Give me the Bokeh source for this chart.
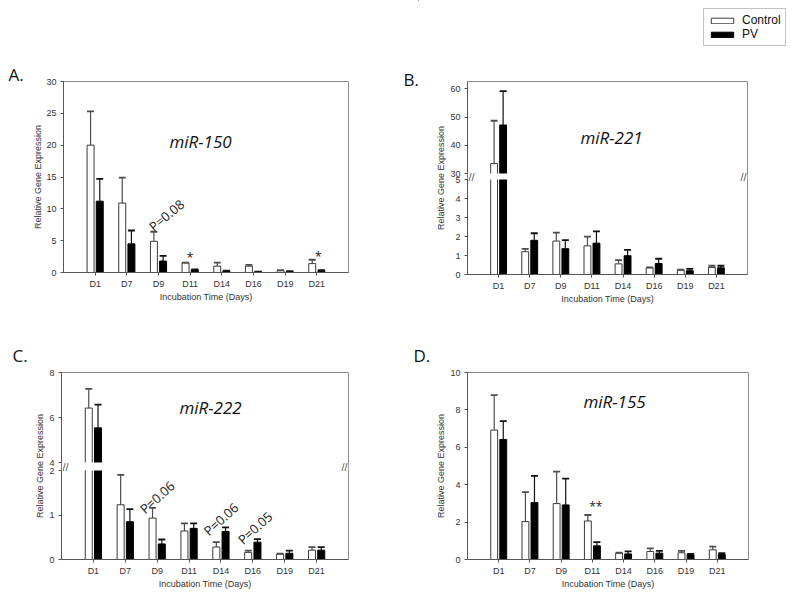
import math
from bokeh.plotting import figure
from bokeh.models import (ColumnDataSource, FactorRange, Range1d, FixedTicker,
                          Label, Legend, LegendItem, BoxAnnotation)
from bokeh.transform import dodge
from bokeh.layouts import row, column
from bokeh.core.properties import value
from bokeh.embed import file_html
from bokeh.resources import INLINE

# ---------------- data ----------------
days = ["D1", "D7", "D9", "D11", "D14", "D16", "D19", "D21"]

mir150_ctrl = [20.0, 10.9, 4.9, 1.5, 1.0, 1.0, 0.3, 1.4]
mir150_ctrl_se = [5.3, 4.0, 1.5, 0.06, 0.55, 0.2, 0.05, 0.6]
mir150_pv = [11.2, 4.5, 1.8, 0.45, 0.25, 0.12, 0.15, 0.3]
mir150_pv_se = [3.5, 2.1, 0.8, 0.05, 0.05, 0.03, 0.05, 0.05]

mir221_ctrl = [33.5, 1.2, 1.76, 1.51, 0.56, 0.35, 0.23, 0.37]
mir221_ctrl_se = [15.2, 0.15, 0.44, 0.48, 0.2, 0.03, 0.03, 0.09]
mir221_pv = [47.2, 1.8, 1.36, 1.65, 0.99, 0.58, 0.2, 0.35]
mir221_pv_se = [12.0, 0.37, 0.45, 0.62, 0.31, 0.25, 0.1, 0.11]

mir222_ctrl = [6.42, 1.23, 0.93, 0.64, 0.28, 0.16, 0.12, 0.21]
mir222_ctrl_se = [0.85, 0.67, 0.23, 0.17, 0.11, 0.04, 0.01, 0.07]
mir222_pv = [5.54, 0.85, 0.35, 0.70, 0.63, 0.39, 0.14, 0.21]
mir222_pv_se = [1.03, 0.28, 0.10, 0.11, 0.09, 0.07, 0.06, 0.07]

mir155_ctrl = [6.92, 2.03, 2.99, 2.06, 0.34, 0.43, 0.36, 0.52]
mir155_ctrl_se = [1.87, 1.57, 1.71, 0.32, 0.02, 0.17, 0.10, 0.17]
mir155_pv = [6.42, 3.04, 2.92, 0.73, 0.30, 0.34, 0.27, 0.27]
mir155_pv_se = [0.98, 1.43, 1.41, 0.20, 0.13, 0.12, 0.03, 0.07]

mir150_ticks = [0, 5, 10, 15, 20, 25, 30]
mir221_ticks_low = [0, 1, 2, 3, 4, 5]
mir221_ticks_high = [30, 40, 50, 60]
mir222_ticks_low = [0, 1, 2]
mir222_ticks_high = [4, 6, 8]
mir155_ticks = [0, 2, 4, 6, 8, 10]

mir150_notes = ["P=0.08", "*", "*"]
mir150_note_days = ["D9", "D11", "D21"]
mir222_notes = ["P=0.06", "P=0.06", "P=0.05"]
mir222_note_days = ["D9", "D14", "D16"]
mir155_notes = ["**"]
mir155_note_days = ["D11"]

series_names = ["Control", "PV"]

# ---------------- style / layout ----------------
FONT = "Liberation Sans"
TFONT = "Open Sans"
BAR_OFF = 0.145
BAR_W = 0.22
AXIS_COL = "#555555"
OUTLINE_COL = "#8c8c8c"
TEXT_COL = "#333333"
CTRL_STYLE = dict(fill_color="white", line_color="#3a3a3a")
PV_STYLE = dict(fill_color="black", line_color="black")


def style_axes(p, ylab_standoff):
    p.grid.visible = False
    p.outline_line_color = OUTLINE_COL
    p.outline_line_width = 1
    for ax in (p.xaxis[0], p.yaxis[0]):
        ax.axis_line_color = AXIS_COL
        ax.major_tick_line_color = AXIS_COL
        ax.major_tick_out = 3
        ax.major_tick_in = 0
        ax.minor_tick_line_color = None
        ax.major_label_text_font = FONT
        ax.major_label_text_font_size = "9px"
        ax.major_label_text_color = TEXT_COL
        ax.axis_label_text_font = FONT
        ax.axis_label_text_font_size = "9px"
        ax.axis_label_text_font_style = "normal"
        ax.axis_label_text_color = TEXT_COL
    p.xaxis.axis_label = "Incubation Time (Days)"
    p.xaxis.major_label_standoff = 3
    p.xaxis.axis_label_standoff = 0
    p.yaxis.axis_label = "Relative Gene Expression"
    p.yaxis.major_label_standoff = 4
    p.yaxis.axis_label_standoff = ylab_standoff


def make_strip(width, height):
    s = figure(width=width, height=height, x_range=Range1d(0, width),
               y_range=Range1d(height, 0), x_axis_location=None, y_axis_location=None,
               min_border_left=0, min_border_right=0, min_border_top=0, min_border_bottom=0,
               output_backend="svg", toolbar_location=None,
               background_fill_color="white", border_fill_color="white")
    s.outline_line_color = None
    s.grid.visible = False
    return s


def make_panel(ctrl, ctrl_se, pv, pv_se, g, ticks=None, brk=None):
    xr = FactorRange(factors=days, range_padding=0.5, range_padding_units="absolute")
    if brk is None:
        yr = Range1d(0, ticks[-1])
    else:
        H, L, G = g["fh"], brk["L"], brk["G"]
        lo1, up0, up1 = brk["lo1"], brk["up0"], brk["up1"]
        yr = Range1d(0, lo1 * H / L)
        s = (up1 - up0) / (H - L - G)
    p = figure(x_range=xr, y_range=yr, frame_width=g["fw"], frame_height=g["fh"],
               min_border_left=g["ml"], min_border_right=g["mr"],
               min_border_top=g["mt"], min_border_bottom=g["mb"],
               output_backend="svg", toolbar_location=None,
               background_fill_color="white", border_fill_color="white")
    if brk is not None:
        p.extra_y_ranges = {"upper": Range1d(up0 - (L + G) * s, up1)}
    style_axes(p, g["ylab"])

    specs = [(ctrl, ctrl_se, -BAR_OFF, CTRL_STYLE, "#4d4d4d"),
             (pv, pv_se, BAR_OFF, PV_STYLE, "#111111")]
    for vals, se, off, sty, ecol in specs:
        xs = dodge("day", off, range=xr)
        ups = [v + e for v, e in zip(vals, se)]
        if brk is None:
            src = ColumnDataSource(dict(day=days, top=vals, up=ups))
            p.vbar(x=xs, top="top", width=BAR_W, source=src, line_width=1, **sty)
            p.segment(x0=xs, y0="top", x1=xs, y1="up", source=src, line_color=ecol, line_width=1.2)
            p.scatter(x=xs, y="up", marker="dash", size=7, line_width=1.8,
                      line_color=ecol, source=src)
        else:
            cut_lo = lo1 + 0.5 * G / L * lo1
            cut_hi = up0 - 0.5 * G * s
            low = ColumnDataSource(dict(day=days, top=[min(v, cut_lo) for v in vals]))
            p.vbar(x=xs, top="top", width=BAR_W, source=low, line_width=1, **sty)
            small = [i for i, v in enumerate(vals) if v <= lo1]
            big = [i for i, v in enumerate(vals) if v > lo1]
            es = ColumnDataSource(dict(day=[days[i] for i in small],
                                       top=[vals[i] for i in small],
                                       up=[ups[i] for i in small]))
            p.segment(x0=xs, y0="top", x1=xs, y1="up", source=es, line_color=ecol, line_width=1.2)
            p.scatter(x=xs, y="up", marker="dash", size=7, line_width=1.8,
                      line_color=ecol, source=es)
            hs = ColumnDataSource(dict(day=[days[i] for i in big],
                                       bottom=[cut_hi] * len(big),
                                       top=[vals[i] for i in big],
                                       up=[ups[i] for i in big]))
            p.vbar(x=xs, bottom="bottom", top="top", width=BAR_W, source=hs,
                   line_width=1, y_range_name="upper", **sty)
            p.segment(x0=xs, y0="top", x1=xs, y1="up", source=hs, line_color=ecol,
                      line_width=1.2, y_range_name="upper")
            p.scatter(x=xs, y="up", marker="dash", size=7, line_width=1.8,
                      line_color=ecol, source=hs, y_range_name="upper")

    if brk is None:
        p.yaxis.ticker = FixedTicker(ticks=ticks)
    else:
        tl, th = brk["ticks_low"], brk["ticks_high"]
        mapped = [round((L + G + (v - up0) / s) * lo1 / L, 6) for v in th]
        allt = list(tl) + mapped
        p.yaxis.ticker = FixedTicker(ticks=allt)
        p.yaxis.major_label_overrides = {t: str(v) for t, v in zip(allt, list(tl) + list(th))}
        gap_lo = lo1
        gap_hi = lo1 + G / L * lo1
        p.add_layout(BoxAnnotation(bottom=gap_lo, top=gap_hi, fill_color="white",
                                   fill_alpha=1.0, line_color=None, level="overlay"))
        for xpos, al in ((1, "left"), (g["fw"] - 1, "right")):
            p.add_layout(Label(x=xpos, x_units="screen", y=(gap_lo + gap_hi) / 2,
                               text="//", text_font=FONT, text_font_size="11px",
                               text_color="#555555", text_align=al,
                               text_baseline="middle", level="overlay"))
    return p


def add_letter(strip, letter, x, y):
    strip.add_layout(Label(x=x, y=y, text=letter, text_font=TFONT, text_font_size="17px",
                           text_color="#111111", text_align="left",
                           text_baseline="alphabetic"))


def add_title(p, title, tpos):
    p.add_layout(Label(x=tpos[0], y=tpos[1], x_units="screen", y_units="screen",
                       text=title, text_font=TFONT, text_font_size="17px",
                       text_font_style="italic", text_color="#111111",
                       text_align="center", text_baseline="middle"))


def add_notes(p, texts, ndays, offs, ys, angles, sizes):
    for i in range(len(texts)):
        s = ColumnDataSource(dict(day=[ndays[i]], text=[texts[i]], y=[ys[i]],
                                  angle=[math.radians(angles[i])]))
        p.text(x=dodge("day", offs[i], range=p.x_range), y="y", text="text", angle="angle",
               source=s, text_font=value(TFONT), text_font_size=value(sizes[i]),
               text_color="#222222", text_align="center", text_baseline="middle")


gA = dict(ml=39, mr=52, mt=81, mb=38, fw=285, fh=191, ylab=0)
gB = dict(ml=49, mr=45, mt=31, mb=36, fw=280, fh=193, ylab=1)
gC = dict(ml=33, mr=52, mt=62, mb=33, fw=287, fh=187, ylab=1)
gD = dict(ml=37, mr=44, mt=62, mb=33, fw=281, fh=187, ylab=1)

brkB = dict(L=95, G=6, lo1=5, up0=30, up1=62.6,
            ticks_low=mir221_ticks_low, ticks_high=mir221_ticks_high)
brkC = dict(L=89, G=8, lo1=2, up0=4, up1=8,
            ticks_low=mir222_ticks_low, ticks_high=mir222_ticks_high)

pA = make_panel(mir150_ctrl, mir150_ctrl_se, mir150_pv, mir150_pv_se, gA, ticks=mir150_ticks)
pB = make_panel(mir221_ctrl, mir221_ctrl_se, mir221_pv, mir221_pv_se, gB, brk=brkB)
pC = make_panel(mir222_ctrl, mir222_ctrl_se, mir222_pv, mir222_pv_se, gC, brk=brkC)
pD = make_panel(mir155_ctrl, mir155_ctrl_se, mir155_pv, mir155_pv_se, gD, ticks=mir155_ticks)

# side strips holding the panel letters, and a strip above panel B for the legend
lA = make_strip(24, 310)
lB = make_strip(18, 310)
lC = make_strip(28, 282)
lD = make_strip(30, 282)
sLeg = make_strip(374, 50)

add_letter(lA, "A.", 8, 74)
add_letter(lB, "B.", 3, 79)
add_letter(lC, "C.", 12, 45)
add_letter(lD, "D.", 13, 45)

add_title(pA, "miR-150", (137, 131))
add_title(pB, "miR-221", (144, 137))
add_title(pC, "miR-222", (149, 152))
add_title(pD, "miR-155", (147, 158))

add_notes(pA, mir150_notes, mir150_note_days, [0.25, 0.0, 0.05], [9.0, 2.4, 2.6],
          [40, 0, 0], ["13px", "13px", "13px"])
add_notes(pC, mir222_notes, mir222_note_days, [0.0, 0.0, 0.07], [1.40, 0.91, 0.71],
          [42, 42, 42], ["13px", "13px", "13px"])
add_notes(pD, mir155_notes, mir155_note_days, [0.11], [2.85], [0], ["12px"])

# legend key renderers: styled like the bars, placed outside the strip's visible range
kc = sLeg.vbar(x=[-100], top=[-100], width=1, line_width=1, **CTRL_STYLE)
kp = sLeg.vbar(x=[-100], top=[-100], width=1, line_width=1, **PV_STYLE)
legend = Legend(items=[LegendItem(label=series_names[0], renderers=[kc], index=0),
                       LegendItem(label=series_names[1], renderers=[kp], index=0)],
                location=(285, 4), glyph_width=28, glyph_height=7,
                label_text_font=FONT, label_text_font_size="12px",
                label_text_color="#111111", label_height=12, label_standoff=6,
                padding=4, spacing=0, margin=0, border_line_color="#888888",
                border_line_width=1, background_fill_color="white", background_fill_alpha=1)
sLeg.add_layout(legend)

top = row(row(column(lA), pA), row(column(lB), column(row(sLeg), pB)))
bottom = row(row(column(lC), pC), row(column(lD), pD))
layout = column(top, bottom)
open("out.html", "w").write(file_html(layout, INLINE))
